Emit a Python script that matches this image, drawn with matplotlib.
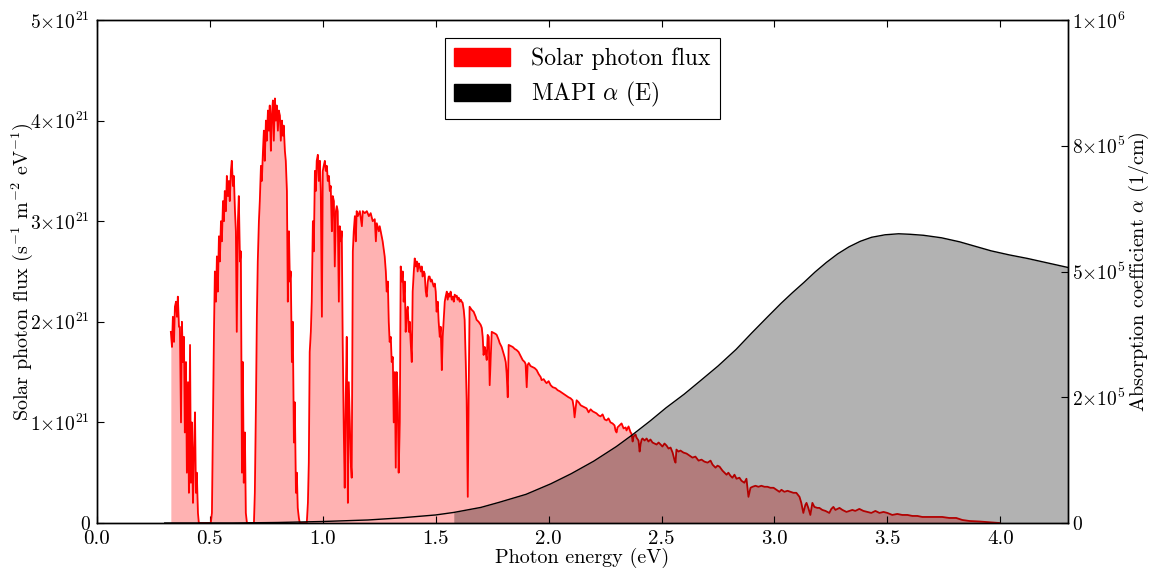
import matplotlib
matplotlib.use("Agg")
import matplotlib.pyplot as plt
from matplotlib.patches import Patch
import numpy as np

plt.rcParams.update({
    "font.family": "serif",
    "font.serif": ["cmr10"],
    "mathtext.fontset": "cm",
    "axes.formatter.use_mathtext": True,
    "axes.unicode_minus": False,
    "font.size": 14,
    "axes.linewidth": 1.0,
})

# ---------------- data ----------------
# Solar photon flux (units of 1e21 s^-1 m^-2 eV^-1) vs photon energy (eV)
energy_ev = [
    0.327, 0.332, 0.336, 0.341, 0.345, 0.350, 0.354, 0.358, 0.363, 0.367,
    0.372, 0.376, 0.381, 0.385, 0.389, 0.394, 0.398, 0.403, 0.407, 0.412,
    0.416, 0.420, 0.425, 0.429, 0.434, 0.438, 0.442, 0.447, 0.451,
    0.504,
    0.509, 0.513, 0.518, 0.522, 0.527, 0.531, 0.535, 0.540, 0.544, 0.549,
    0.553, 0.558, 0.562, 0.566, 0.571, 0.575, 0.580, 0.584, 0.588, 0.593,
    0.597, 0.602, 0.606, 0.611, 0.615, 0.619, 0.624, 0.628, 0.633, 0.637,
    0.642, 0.646, 0.650, 0.655, 0.659, 0.664,
    0.695,
    0.699, 0.704, 0.708, 0.712, 0.717, 0.721, 0.726, 0.730, 0.735, 0.739,
    0.743, 0.748, 0.752, 0.757, 0.761, 0.765, 0.770, 0.774, 0.779, 0.783,
    0.788, 0.792, 0.796, 0.801, 0.805, 0.810, 0.814, 0.819, 0.823, 0.827,
    0.832, 0.836, 0.841, 0.845, 0.850, 0.854, 0.858, 0.863, 0.867, 0.872,
    0.876, 0.881, 0.885, 0.889, 0.894, 0.898,
    0.929,
    0.934, 0.938, 0.942, 0.947, 0.951, 0.956, 0.960, 0.965, 0.969, 0.973,
    0.978, 0.982, 0.987, 0.991, 0.996, 1.000, 1.004, 1.009, 1.013, 1.018,
    1.022, 1.027, 1.031, 1.035, 1.040, 1.044, 1.049, 1.053, 1.058, 1.062,
    1.066, 1.071, 1.075, 1.080, 1.084, 1.088, 1.093, 1.097, 1.102, 1.106,
    1.111, 1.115, 1.119, 1.124, 1.128, 1.133, 1.137, 1.142, 1.146, 1.150,
    1.155, 1.164, 1.173, 1.177, 1.186, 1.195, 1.204, 1.212, 1.221, 1.230,
    1.235, 1.239, 1.248, 1.252, 1.261, 1.265, 1.274, 1.279, 1.283, 1.288,
    1.292, 1.296, 1.301, 1.305, 1.310, 1.314, 1.319, 1.323, 1.327, 1.332,
    1.336, 1.341, 1.345, 1.350, 1.354, 1.358, 1.363, 1.367, 1.372, 1.376,
    1.381, 1.385, 1.389, 1.394, 1.398, 1.403, 1.407, 1.412, 1.416, 1.420,
    1.425, 1.429, 1.434, 1.438, 1.442, 1.447, 1.451, 1.456, 1.460, 1.465,
    1.469, 1.473, 1.478, 1.482, 1.487, 1.491, 1.496, 1.500, 1.504, 1.509,
    1.513, 1.518, 1.522, 1.527, 1.531, 1.535, 1.540, 1.544, 1.549, 1.553,
    1.558, 1.562, 1.566, 1.571, 1.575, 1.580, 1.584, 1.589, 1.593, 1.597,
    1.602, 1.606, 1.611, 1.615, 1.619, 1.624, 1.628, 1.633, 1.637, 1.642,
    1.646, 1.650, 1.659, 1.668, 1.677, 1.681, 1.690, 1.699, 1.704, 1.708,
    1.712, 1.717, 1.721, 1.726, 1.730, 1.735, 1.739, 1.743, 1.748, 1.757,
    1.765, 1.770, 1.779, 1.783, 1.792, 1.796, 1.805, 1.810, 1.814, 1.819,
    1.823, 1.832, 1.841, 1.850, 1.858, 1.867, 1.876, 1.885, 1.894, 1.898,
    1.903, 1.907, 1.912, 1.920, 1.929, 1.938, 1.947, 1.956, 1.965, 1.969,
    1.978, 1.987, 1.991, 2.000, 2.009, 2.018, 2.031, 2.040, 2.049, 2.062,
    2.075, 2.088, 2.097, 2.106, 2.111, 2.115, 2.120, 2.124, 2.133, 2.142,
    2.150, 2.159, 2.168, 2.177, 2.186, 2.195, 2.204, 2.212, 2.221, 2.230,
    2.239, 2.248, 2.257, 2.265, 2.274, 2.283, 2.292, 2.296, 2.301, 2.305,
    2.314, 2.323, 2.332, 2.341, 2.345, 2.354, 2.363, 2.367, 2.372, 2.376,
    2.385, 2.389, 2.398, 2.403, 2.407, 2.412, 2.416, 2.425, 2.434, 2.442,
    2.451, 2.460, 2.469, 2.478, 2.487, 2.496, 2.504, 2.513, 2.522, 2.531,
    2.540, 2.549, 2.558, 2.562, 2.566, 2.575, 2.584, 2.597, 2.611, 2.624,
    2.637, 2.650, 2.664, 2.677, 2.690, 2.704, 2.717, 2.726, 2.739, 2.748,
    2.757, 2.770, 2.779, 2.788, 2.796, 2.805, 2.814, 2.823, 2.832, 2.845,
    2.854, 2.867, 2.876, 2.885, 2.894, 2.903, 2.916, 2.929, 2.942, 2.956,
    2.969, 2.982, 2.996, 3.009, 3.022, 3.031, 3.044, 3.058, 3.071, 3.084,
    3.097, 3.111, 3.119, 3.128, 3.137, 3.142, 3.150, 3.159, 3.168, 3.177,
    3.190, 3.199, 3.212, 3.226, 3.235, 3.243, 3.252, 3.261, 3.270, 3.279,
    3.288, 3.301, 3.310, 3.319, 3.332, 3.345, 3.358, 3.376, 3.394, 3.412,
    3.429, 3.447, 3.465, 3.483, 3.500, 3.522, 3.544, 3.566, 3.589, 3.611,
    3.633, 3.655, 3.677, 3.708, 3.743, 3.774, 3.805, 3.832, 3.863, 3.907,
    3.951, 3.996,
]
flux_1e21 = [
    1.9, 1.75, 2.05, 1.8, 2.15, 2.2, 2.05, 2.25, 1.95, 1.95,
    1.0, 2.0, 1.6, 1.85, 0.9, 1.6, 0.5, 1.4, 0.3, 1.77,
    0.4, 1.0, 0.2, 0.7, 1.1, 0.3, 0.5, 0.1, 0.0,
    0.0,
    0.1, 0.9, 1.9, 2.5, 2.2, 2.65, 2.3, 2.85, 2.6, 3.0,
    2.8, 3.2, 3.0, 3.3, 3.1, 3.45, 3.25, 3.4, 3.2, 3.5,
    3.6, 3.35, 3.45, 3.1, 2.9, 1.9, 3.0, 3.25, 2.6, 2.7,
    0.5, 1.6, 0.4, 0.9, 0.1, 0.0,
    0.0,
    0.3, 1.2, 2.05, 2.6, 3.0, 3.2, 3.55, 3.4, 3.7, 3.9,
    3.6, 4.0, 3.8, 4.1, 3.9, 4.15, 3.7, 4.05, 4.2, 3.8,
    4.22, 4.0, 4.15, 3.9, 4.1, 4.05, 3.8, 4.0, 3.85, 3.95,
    3.7, 3.6, 3.3, 2.2, 2.9, 2.4, 2.5, 1.6, 2.0, 0.8,
    1.2, 0.3, 0.5, 0.15, 0.05, 0.0,
    0.0,
    0.2, 0.6, 1.7, 1.9, 2.2, 3.0, 2.7, 3.5, 3.3, 3.6,
    3.66, 3.4, 3.6, 3.3, 2.05, 3.5, 3.55, 3.6, 3.5, 3.55,
    3.4, 3.45, 3.3, 3.35, 2.9, 3.25, 3.2, 2.55, 3.1, 3.15,
    3.1, 2.2, 2.95, 2.8, 2.9, 1.8, 0.9, 0.35, 1.3, 1.85,
    0.2, 1.4, 1.05, 0.6, 0.45, 2.7, 2.9, 3.05, 2.8, 3.1,
    3.05, 3.1, 2.95, 3.1, 3.08, 3.1, 3.05, 3.08, 3.0, 3.02,
    2.8, 2.98, 2.9, 2.95, 2.85, 2.8, 2.65, 2.5, 2.3, 2.4,
    2.0, 1.8, 1.85, 1.6, 1.65, 1.0, 1.5, 0.55, 1.5, 1.2,
    0.5, 1.0, 2.55, 2.4, 2.5, 2.2, 2.4, 1.9, 2.1, 2.15,
    1.9, 2.0, 1.8, 1.6, 2.3, 2.5, 2.63, 2.55, 2.6, 2.5,
    2.58, 2.55, 2.5, 2.55, 2.45, 2.5, 2.48, 2.3, 2.25, 2.4,
    2.45, 2.45, 2.4, 2.42, 2.38, 2.35, 2.38, 2.3, 2.1, 2.2,
    2.0, 1.85, 1.95, 1.52, 1.85, 2.0, 2.2, 2.25, 2.3, 2.22,
    2.28, 2.25, 2.3, 2.22, 2.25, 2.2, 2.27, 2.25, 2.26, 2.22,
    2.24, 2.2, 2.22, 2.2, 2.19, 2.12, 2.02, 1.6, 1.22, 0.26,
    1.3, 2.15, 2.12, 2.1, 2.05, 2.02, 2.0, 1.97, 1.94, 1.85,
    1.67, 1.75, 1.7, 1.62, 1.87, 1.85, 1.37, 1.6, 1.9, 1.89,
    1.88, 1.87, 1.82, 1.79, 1.75, 1.72, 1.65, 1.6, 1.49, 1.25,
    1.77, 1.76, 1.75, 1.73, 1.72, 1.7, 1.66, 1.62, 1.6, 1.58,
    1.35, 1.57, 1.59, 1.56, 1.55, 1.54, 1.52, 1.48, 1.45, 1.42,
    1.43, 1.4, 1.39, 1.41, 1.37, 1.35, 1.34, 1.32, 1.31, 1.29,
    1.27, 1.25, 1.24, 1.22, 1.15, 1.05, 1.15, 1.22, 1.2, 1.17,
    1.16, 1.15, 1.14, 1.1, 1.13, 1.11, 1.1, 1.09, 1.07, 1.06,
    1.08, 1.03, 1.02, 1.04, 1.0, 0.99, 0.97, 0.92, 0.9, 0.95,
    0.97, 0.99, 0.94, 0.95, 0.92, 0.96, 0.9, 0.89, 0.81, 0.86,
    0.88, 0.85, 0.82, 0.71, 0.78, 0.83, 0.84, 0.82, 0.84, 0.81,
    0.83, 0.8, 0.79, 0.78, 0.8, 0.78, 0.76, 0.79, 0.77, 0.74,
    0.75, 0.7, 0.62, 0.6, 0.73, 0.71, 0.72, 0.7, 0.69, 0.67,
    0.65, 0.66, 0.62, 0.63, 0.61, 0.6, 0.62, 0.58, 0.55, 0.57,
    0.56, 0.52, 0.5, 0.48, 0.5, 0.47, 0.45, 0.48, 0.44, 0.45,
    0.42, 0.4, 0.44, 0.26, 0.35, 0.36, 0.37, 0.36, 0.37, 0.36,
    0.36, 0.35, 0.35, 0.33, 0.31, 0.33, 0.31, 0.32, 0.31, 0.3,
    0.3, 0.26, 0.2, 0.1, 0.18, 0.2, 0.15, 0.08, 0.2, 0.16,
    0.15, 0.15, 0.13, 0.12, 0.11, 0.1, 0.14, 0.16, 0.13, 0.14,
    0.15, 0.13, 0.12, 0.11, 0.12, 0.13, 0.12, 0.14, 0.12, 0.11,
    0.1, 0.12, 0.1, 0.11, 0.1, 0.08, 0.09, 0.08, 0.08, 0.07,
    0.07, 0.06, 0.06, 0.06, 0.06, 0.05, 0.05, 0.03, 0.02, 0.015,
    0.008, 0.0,
]

# MAPI absorption coefficient (1/cm) vs photon energy (eV)
abs_energy_ev = [0.30, 0.60, 0.80, 1.00, 1.20, 1.34, 1.50, 1.58, 1.70, 1.78,
                 1.90, 2.01, 2.10, 2.20, 2.30, 2.37, 2.45, 2.52, 2.60, 2.67,
                 2.75, 2.83, 2.90, 2.97, 3.03, 3.08, 3.13, 3.18, 3.23, 3.28,
                 3.33, 3.38, 3.43, 3.49, 3.55, 3.60, 3.66, 3.74, 3.82, 3.89,
                 3.96, 4.04, 4.12, 4.19, 4.25, 4.30]
abs_coeff = [0, 0, 1000, 3000, 6000, 10000, 16000, 21000, 31000, 41000,
             57000, 78000, 98000, 123000, 152000, 175000, 203000, 229000, 256000, 282000,
             312000, 345000, 378000, 410000, 437000, 458000, 478000, 499000, 518000, 535000,
             549000, 560000, 568000, 573000, 575000, 574000, 572000, 567000, 559000, 550000,
             541000, 533000, 526000, 519000, 513000, 508000]
bandgap_ev = 1.58

x_ticks = [0.0, 0.5, 1.0, 1.5, 2.0, 2.5, 3.0, 3.5, 4.0]
left_ticks = [0, 1e21, 2e21, 3e21, 4e21, 5e21]
left_tick_labels = ["0", r"$1{\times}10^{21}$", r"$2{\times}10^{21}$", r"$3{\times}10^{21}$",
                    r"$4{\times}10^{21}$", r"$5{\times}10^{21}$"]
right_ticks = [0, 2.5e5, 5e5, 7.5e5, 1e6]
right_tick_labels = ["0", r"$2{\times}10^{5}$", r"$5{\times}10^{5}$", r"$8{\times}10^{5}$",
                     r"$1{\times}10^{6}$"]

assert len(energy_ev) == len(flux_1e21), (len(energy_ev), len(flux_1e21))
assert len(abs_energy_ev) == len(abs_coeff)

E = np.array(energy_ev)
F = np.array(flux_1e21) * 1e21
Ea = np.array(abs_energy_ev)
A = np.array(abs_coeff, dtype=float)

# ---------------- plot ----------------
fig = plt.figure(figsize=(11.52, 5.70), dpi=100)
ax = fig.add_axes([97 / 1152, 47 / 570, 971 / 1152, 503 / 570])

ax.fill_between(E, F, 0, color="red", alpha=0.3, linewidth=0)
ax.plot(E, F, color="red", linewidth=1.3)
ax.set_xlim(0, 4.3)
ax.set_ylim(0, 5e21)
ax.set_xticks(x_ticks)
ax.set_xticklabels([f"{v:.1f}" for v in x_ticks])
ax.set_yticks(left_ticks)
ax.set_yticklabels(left_tick_labels)
ax.set_xlabel("Photon energy (eV)", fontsize=14.5)
ax.set_ylabel(r"Solar photon flux (s$^{-1}$ m$^{-2}$ eV$^{-1}$)", fontsize=14.5)
ax.xaxis.set_label_coords(0.5, -0.05)
ax.yaxis.set_label_coords(-0.064, 0.5)
ax.tick_params(direction="in", top=True, length=5, width=0.8, pad=5)
ax.tick_params(axis="y", labelsize=14)
ax.tick_params(axis="x", labelsize=15)

ax2 = ax.twinx()
ax2.fill_between(Ea, A, 0, where=Ea >= bandgap_ev, color="black", alpha=0.3, linewidth=0)
ax2.plot(Ea, A, color="black", linewidth=1.0)
ax2.set_ylim(0, 1e6)
ax2.set_xlim(0, 4.3)
ax2.set_yticks(right_ticks)
ax2.set_yticklabels(right_tick_labels)
ax2.set_ylabel(r"Absorption coefficient $\alpha$ (1/cm)", fontsize=14.5)
ax2.yaxis.set_label_coords(1.061, 0.5)
ax2.tick_params(direction="in", length=5, width=0.8, pad=3, labelsize=14)

handles = [Patch(facecolor="red", edgecolor="red", label="Solar photon flux"),
           Patch(facecolor="black", edgecolor="black", label=r"MAPI $\alpha$ (E)")]
leg = ax2.legend(handles=handles, loc="upper center", fancybox=False, framealpha=1,
                 edgecolor="black", fontsize=17, handlelength=2.35, handleheight=0.75,
                 borderaxespad=0.75, borderpad=0.42, labelspacing=0.42, handletextpad=0.9)
leg.get_frame().set_linewidth(0.8)

fig.savefig("out.png", dpi=100)
